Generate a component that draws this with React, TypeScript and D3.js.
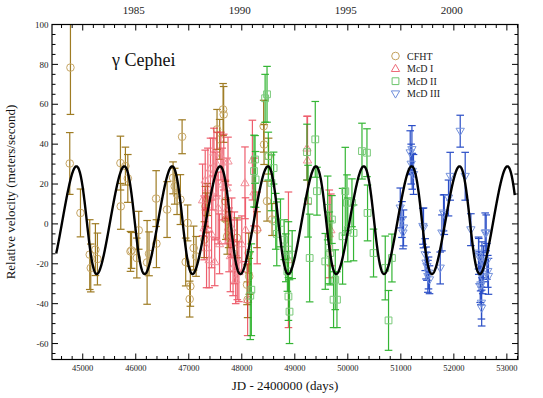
import React from 'react';
import * as d3 from 'd3';

// ---- data: [JD - 2400000, velocity (m/s), error (m/s)] ----
const cfht: [number, number, number][] = [
  [44755, 30.3, 15.5], [44768, 78.4, 23.5], [44957, 5.5, 12], [45132, -15.4, 17.5],
  [45151, -22.1, 12], [45239, -12.9, 13], [45277, -17.6, 13], [45711, 30.5, 13.5],
  [45717, 8.8, 11.5], [45805, 29.0, 9.5], [45850, 22.8, 12], [45901, -13.8, 10],
  [45920, -13.3, 9], [46020, -17.1, 10], [46056, -3.2, 9.5], [46214, -19.3, 21],
  [46250, -15.0, 11], [46384, 12.7, 14], [46390, -9.9, 12], [46591, 7.2, 14],
  [46704, 23.1, 8], [46735, 18.9, 9], [46779, 14.7, 10], [46842, 12.2, 12.5],
  [46874, 43.7, 8.5], [46942, -19.1, 12], [46979, 0.5, 9], [47017, -37.7, 9],
  [47030, -31.3, 10], [47092, -12.1, 11], [47138, -16.3, 10], [47294, -7.9, 9],
  [47313, 8.8, 10], [47326, 5.5, 10], [47350, 12.2, 8], [47533, 47.4, 10],
  [47583, 42.4, 10], [47647, 57.4, 13], [47658, 54.9, 14], [47690, 11.4, 10],
  [47700, 2.2, 10], [47725, -6.2, 9], [47752, -2.9, 9], [47910, -7.0, 10],
  [48099, -30.5, 10], [48110, -38.0, 9], [48130, -14.6, 10], [48140, -26.3, 9],
  [48287, -2.9, 9], [48412, 49.0, 13], [48420, 39.8, 10], [48476, 11.4, 10],
  [48506, 34.0, 9], [48570, 2.2, 8],
];

const mcd1: [number, number, number][] = [
  [47260, 12, 18], [47290, -2, 16], [47310, 22, 15], [47335, -12, 20],
  [47360, 18, 20], [47385, -18, 14], [47410, 28, 15],
  [47430, -5, 17], [47455, 25, 18], [47475, 36, 12], [47490, -19, 12],
  [47510, 14, 22], [47530, 30, 16], [47555, 8, 18],
  [47580, -10, 15], [47605, 34, 12], [47630, 20, 18],
  [47660, 31, 14], [47690, 6, 16], [47720, 18, 15], [47740, 31.5, 12],
  [47760, -8, 16], [47785, -16, 18], [47810, -2, 15], [47835, -22, 14],
  [47860, -12, 18], [47885, -28, 12], [47915, -18, 20], [47945, -24, 15],
  [48000, -10, 14], [48060, 20.6, 18], [48070, -2.9, 16], [48110, -38, 18],
  [48200, 32, 20], [48230, 16, 17], [48290, -2, 18], [48880, -18, 34],
  [49230, 38, 16], [49240, 32, 22], [49650, -5, 22], [49680, -3, 18],
];

const mcd2: [number, number, number][] = [
  [48160, -36, 22], [48180, -33, 23], [48230, 26.5, 18], [48250, 32.3, 12], [48260, 22.3, 14],
  [48440, 63, 12], [48476, 65, 14], [48500, 34, 12], [48560, 20.6, 14], [48600, 28, 8],
  [48640, 1.3, 14], [48660, -5, 16], [48730, 0.5, 12], [48800, -7.9, 10], [48830, -17, 12],
  [48860, -23.8, 10], [48880, -36.4, 12], [48900, -44, 16], [48880, -12.9, 14], [48950, -15.4, 12],
  [49230, 36, 14], [49250, 11.4, 18], [49280, -17.1, 22], [49386, 42.4, 19], [49418, 16.4, 12],
  [49575, -18.8, 14], [49620, 8, 16], [49650, -12, 18], [49669, -14.6, 16], [49700, 2.2, 12],
  [49731, -38, 14], [49763, -28, 15], [49795, -38, 14], [49901, -6.2, 24], [49952, 16.4, 22],
  [49984, 10.6, 14], [50000, -3, 16], [50078, 10.6, 12], [50108, -4.5, 14], [50267, 36.5, 14],
  [50361, 35.7, 12], [50372, 5.5, 14], [50485, -14.6, 12], [50706, -22.1, 16], [50768, -48.4, 15],
  [50832, -17.1, 12],
];

const mcd3: [number, number, number][] = [
  [50989, 8, 10], [51021, 2.2, 9], [51040, -4.5, 8], [51051, -2, 9], [51177, 35.7, 11],
  [51195, 30, 10], [51209, 37.3, 12], [51215, 26.4, 9], [51239, 24.8, 10], [51416, -1.2, 9],
  [51428, -2, 10], [51460, -15.4, 8], [51475, -19.6, 8], [51492, -21.3, 7], [51510, -26.3, 8],
  [51522, -24.6, 8], [51541, -28, 7], [51743, -22.1, 8], [51775, -4.5, 9], [51805, 5.5, 9],
  [51820, 4.7, 10], [51899, 13, 9], [51931, 23.9, 12], [52120, 46.5, 8], [52214, 23.9, 12],
  [52321, -2.9, 8], [52465, -14.6, 8], [52470, -16.3, 9], [52480, -22, 8], [52497, -31.4, 8],
  [52505, -24.6, 9], [52510, -30.5, 10], [52520, -39.7, 8], [52525, -42.2, 9], [52530, -18, 9],
  [52545, -27, 8], [52560, -20, 9], [52591, -4.5, 10], [52610, -4.5, 9], [52623, -18.8, 9],
  [52640, -23.8, 8], [52653, -26.3, 9],
];

// Keplerian orbit fit parameters (model curve)
const PERIOD = 903.3;
const T_PERI = 45082;
const ECC = 0.12;
const OMEGA_DEG = 94;
const K_AMP = 27;
const V_OFFSET = 2.1;
const CURVE_START = 44500;
const CURVE_END = 53150;

const xMajorTicks = [45000, 46000, 47000, 48000, 49000, 50000, 51000, 52000, 53000];
const yMajorTicks = [-60, -40, -20, 0, 20, 40, 60, 80, 100];
const yearLabels = [1985, 1990, 1995, 2000];
const legendNames = ['CFHT', 'McD I', 'McD II', 'McD III'];

const W = 543, H = 398;
const L = 52, R = 518, T = 24.5, B = 359.5;

function keplerRV(t: number) {
  const M = (2 * Math.PI * (t - T_PERI)) / PERIOD;
  let E = M;
  for (let i = 0; i < 30; i++) E = E - (E - ECC * Math.sin(E) - M) / (1 - ECC * Math.cos(E));
  const nu = 2 * Math.atan2(Math.sqrt(1 + ECC) * Math.sin(E / 2), Math.sqrt(1 - ECC) * Math.cos(E / 2));
  const w = (OMEGA_DEG * Math.PI) / 180;
  return K_AMP * (Math.cos(nu + w) + ECC * Math.cos(w)) + V_OFFSET;
}

const yearToJD = (yr: number) => 46000 + (yr - 1985) * 400;

type Style = { bar: string; mark: string; shape: 'circle' | 'tri' | 'square' | 'tridown'; op: number };
const styles: Style[] = [
  { bar: '#9a7518', mark: '#c4a25e', shape: 'circle', op: 0.95 },
  { bar: '#e8283c', mark: '#ee6a78', shape: 'tri', op: 0.75 },
  { bar: '#1fae1f', mark: '#6cc46c', shape: 'square', op: 0.9 },
  { bar: '#1f45c4', mark: '#6f8edb', shape: 'tridown', op: 0.95 },
];

const triPath = d3.symbol().type(d3.symbolTriangle).size(30)() as string;
const sqPath = d3.symbol().type(d3.symbolSquare).size(46)() as string;

function Marker({ x, y, st }: { x: number; y: number; st: Style }) {
  const common = { fill: 'none', stroke: st.mark, strokeWidth: 1 };
  if (st.shape === 'circle') return <circle cx={x} cy={y} r={3.8} {...common} />;
  if (st.shape === 'square') return <path d={sqPath} transform={`translate(${x},${y})`} {...common} />;
  if (st.shape === 'tri') return <path d={triPath} transform={`translate(${x},${y + 0.5})`} {...common} />;
  return <path d={triPath} transform={`translate(${x},${y - 0.5}) rotate(180)`} {...common} />;
}

export default function App() {
  const x = d3.scaleLinear().domain([44420, 53210]).range([L, R]);
  const y = d3.scaleLinear().domain([-68, 100]).range([B, T]);

  const xMinor = d3.range(44600, 53201, 200).filter((v) => v % 1000 !== 0);
  const yMinor = d3.range(-65, 101, 5).filter((v) => v % 20 !== 0);

  const curvePts = d3.range(CURVE_START, CURVE_END + 1, 3).map((t) => [t, keplerRV(t)] as [number, number]);
  const line = d3.line<[number, number]>().x((d) => x(d[0])).y((d) => y(d[1]));

  const series = [cfht, mcd1, mcd2, mcd3];
  const font = 'Liberation Serif, Times New Roman, DejaVu Serif, serif';
  const cap = 3.8;

  return (
    <svg width={W} height={H} style={{ position: 'absolute', left: 0, top: 0, background: '#fff', fontFamily: font }}>
      <defs>
        <clipPath id="plotclip">
          <rect x={L} y={T} width={R - L} height={B - T} />
        </clipPath>
      </defs>
      <g clipPath="url(#plotclip)">
        {series.map((data, si) => {
          const st = styles[si];
          return (
            <g key={si} opacity={st.op}>
              {data.map((d, i) => {
                const cx = x(d[0]);
                const y1 = y(d[1] + d[2]);
                const y2 = y(d[1] - d[2]);
                return (
                  <g key={i} stroke={st.bar} strokeWidth={1.2}>
                    <line x1={cx} x2={cx} y1={y1} y2={y2} />
                    <line x1={cx - cap} x2={cx + cap} y1={y1} y2={y1} />
                    <line x1={cx - cap} x2={cx + cap} y1={y2} y2={y2} />
                  </g>
                );
              })}
              {data.map((d, i) => (
                <Marker key={'m' + i} x={x(d[0])} y={y(d[1])} st={st} />
              ))}
            </g>
          );
        })}
        <path d={line(curvePts) || ''} fill="none" stroke="#000" strokeWidth={2.4} />
      </g>

      {/* frame */}
      <rect x={L} y={T} width={R - L} height={B - T} fill="none" stroke="#000" strokeWidth={1.2} />

      {/* x ticks bottom & top */}
      {xMajorTicks.map((v) => (
        <g key={'xt' + v}>
          <line x1={x(v)} x2={x(v)} y1={B} y2={B - 6} stroke="#000" strokeWidth={1} />
          <line x1={x(v)} x2={x(v)} y1={T} y2={T + 6} stroke="#000" strokeWidth={1} />
          <text x={x(v)} y={B + 11.5} fontSize={8.5} textAnchor="middle" fill="#222" style={{ fontFamily: font }}>{v}</text>
        </g>
      ))}
      {xMinor.map((v) => (
        <g key={'xm' + v}>
          <line x1={x(v)} x2={x(v)} y1={B} y2={B - 3.5} stroke="#000" strokeWidth={1} />
          <line x1={x(v)} x2={x(v)} y1={T} y2={T + 3.5} stroke="#000" strokeWidth={1} />
        </g>
      ))}
      {yearLabels.map((yr) => (
        <text key={'yr' + yr} x={x(yearToJD(yr)) - 2} y={14} fontSize={11} textAnchor="middle" fill="#222" style={{ fontFamily: font }}>{yr}</text>
      ))}

      {/* y ticks */}
      {yMajorTicks.map((v) => (
        <g key={'yt' + v}>
          <line x1={L} x2={L + 6} y1={y(v)} y2={y(v)} stroke="#000" strokeWidth={1} />
          <line x1={R} x2={R - 6} y1={y(v)} y2={y(v)} stroke="#000" strokeWidth={1} />
          <text x={L - 3.5} y={y(v) + 3.2} fontSize={9} textAnchor="end" fill="#222" style={{ fontFamily: font }}>{v}</text>
        </g>
      ))}
      {yMinor.map((v) => (
        <g key={'ym' + v}>
          <line x1={L} x2={L + 3.5} y1={y(v)} y2={y(v)} stroke="#000" strokeWidth={1} />
          <line x1={R} x2={R - 3.5} y1={y(v)} y2={y(v)} stroke="#000" strokeWidth={1} />
        </g>
      ))}

      {/* axis titles */}
      <text x={(L + R) / 2} y={390} fontSize={13} textAnchor="middle" fill="#111" style={{ fontFamily: font }}>JD - 2400000 (days)</text>
      <text transform={`translate(14.5,${(T + B) / 2}) rotate(-90)`} fontSize={13} textAnchor="middle" fill="#111" style={{ fontFamily: font }}>
        Relative velocity (meters/second)
      </text>

      {/* title */}
      <text x={112} y={66} fontSize={18} fill="#111" style={{ fontFamily: font }}>γ Cephei</text>

      {/* legend */}
      {legendNames.map((name, i) => (
        <g key={name}>
          <Marker x={395.5} y={56 + i * 12.6} st={styles[i]} />
          <text x={407} y={56 + i * 12.6 + 3.5} fontSize={10} fill="#222" style={{ fontFamily: font }}>{name}</text>
        </g>
      ))}
    </svg>
  );
}
